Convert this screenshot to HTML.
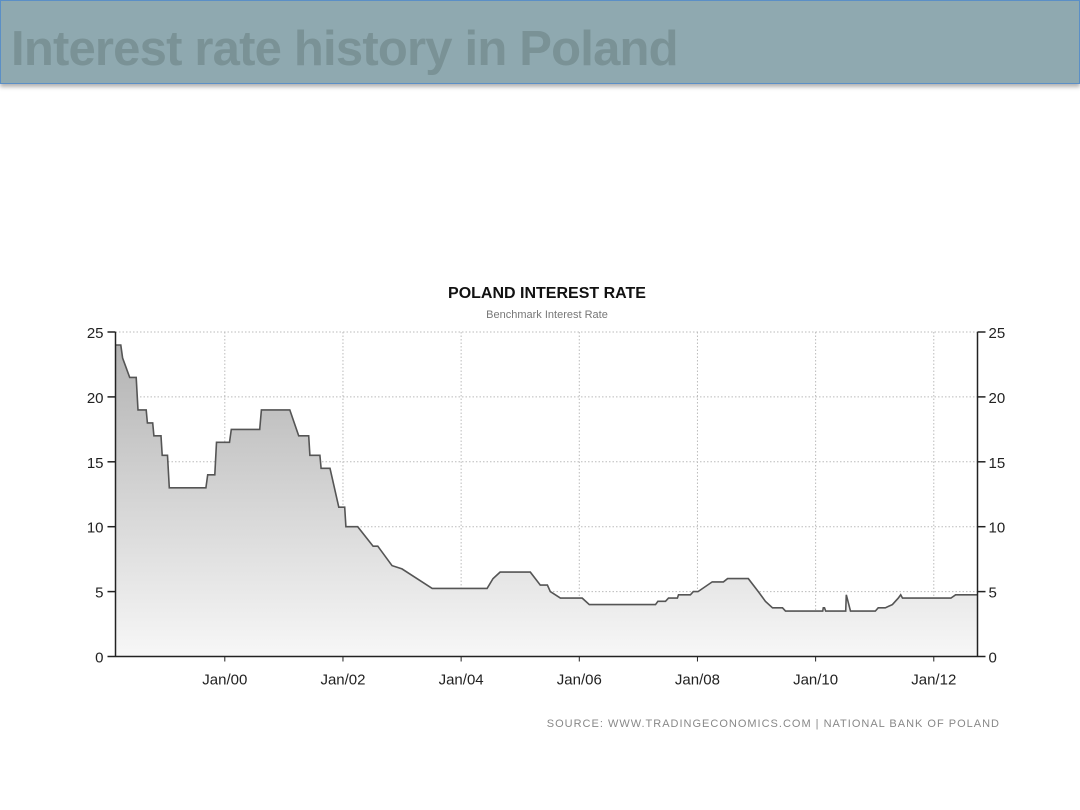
<!DOCTYPE html>
<html><head><meta charset="utf-8">
<style>
html,body{margin:0;padding:0;background:#fff;}
body{width:1080px;height:810px;position:relative;overflow:hidden;font-family:"Liberation Sans",sans-serif;}
#hdr{position:absolute;left:0;top:0;width:1078px;height:82px;background:#8fa9b0;border:1px solid #5b8fc6;box-shadow:0 3px 4px rgba(0,0,0,0.3);}
#hdr span{position:absolute;left:10px;top:20px;font-size:49px;line-height:56px;font-weight:bold;color:#7a9296;letter-spacing:-0.8px;white-space:nowrap;}
svg{position:absolute;left:0;top:0;}
</style></head><body>
<div id="hdr"><span>Interest rate history in Poland</span></div>
<svg id="chart" width="1080" height="810">
<defs><linearGradient id="fg" x1="0" y1="0" x2="0" y2="1"><stop offset="0" stop-color="#b3b3b3"/><stop offset="1" stop-color="#f7f7f7"/></linearGradient></defs>
<text x="547" y="298" text-anchor="middle" font-size="16" font-weight="bold" fill="#111">POLAND INTEREST RATE</text>
<text x="547" y="318" text-anchor="middle" font-size="11" fill="#777">Benchmark Interest Rate</text>
<text x="1000" y="727" text-anchor="end" font-size="11" fill="#888" letter-spacing="1">SOURCE: WWW.TRADINGECONOMICS.COM | NATIONAL BANK OF POLAND</text>
<g id="grid"></g><g id="series"></g><g id="axes"></g>
</svg>
<script>
const years = [1998.15,1998.24,1998.27,1998.39,1998.50,1998.53,1998.67,1998.69,1998.78,1998.80,1998.92,1998.94,1999.03,1999.06,1999.68,1999.71,1999.83,1999.86,2000.08,2000.11,2000.59,2000.62,2001.10,2001.25,2001.42,2001.44,2001.61,2001.63,2001.78,2001.93,2002.03,2002.05,2002.25,2002.51,2002.59,2002.83,2003.00,2003.51,2004.44,2004.54,2004.66,2005.17,2005.34,2005.46,2005.51,2005.68,2006.05,2006.17,2007.29,2007.33,2007.46,2007.51,2007.66,2007.68,2007.88,2007.93,2008.01,2008.25,2008.44,2008.51,2008.86,2009.03,2009.15,2009.27,2009.44,2009.49,2010.12,2010.13,2010.15,2010.17,2010.51,2010.52,2010.59,2011.01,2011.06,2011.18,2011.30,2011.40,2011.44,2011.47,2012.29,2012.37,2012.74];
const rates = [24,24,23,21.5,21.5,19,19,18,18,17,17,15.5,15.5,13,13,14,14,16.5,16.5,17.5,17.5,19,19,17,17,15.5,15.5,14.5,14.5,11.5,11.5,10,10,8.5,8.5,7,6.75,5.25,5.25,6,6.5,6.5,5.5,5.5,5,4.5,4.5,4,4,4.25,4.25,4.5,4.5,4.75,4.75,5,5,5.75,5.75,6,6,5,4.25,3.75,3.75,3.5,3.5,3.75,3.75,3.5,3.5,4.75,3.5,3.5,3.75,3.75,4,4.5,4.75,4.5,4.5,4.75,4.75];
const yTicks = [0,5,10,15,20,25];
const xTickYears = [2000,2002,2004,2006,2008,2010,2012];
const xTickLabels = ["Jan/00","Jan/02","Jan/04","Jan/06","Jan/08","Jan/10","Jan/12"];

const L=115.5,R=977.5,T=332,B=656.5,Y0=1998.15,Y1=2012.74;
const sx=v=>L+(v-Y0)/(Y1-Y0)*(R-L);
const sy=v=>B-v/25*(B-T);
const NS="http://www.w3.org/2000/svg";
function mk(tag,parent,attrs){const e=document.createElementNS(NS,tag);for(const k in attrs)e.setAttribute(k,attrs[k]);parent.appendChild(e);return e;}
const grid=document.getElementById('grid'),ser=document.getElementById('series'),ax=document.getElementById('axes');

yTicks.forEach(t=>{
  if(t>0){const g=mk('line',grid,{x1:L,x2:R,y1:sy(t),y2:sy(t),stroke:'#bbb','stroke-dasharray':'1.5,2'});
  
  }
  const tl=mk('line',ax,{x1:L-8,x2:L,y1:sy(t),y2:sy(t),stroke:'#222','stroke-width':1.5});
  
  
  const tr=mk('line',ax,{x1:R,x2:R+8,y1:sy(t),y2:sy(t),stroke:'#222','stroke-width':1.5});
  
  
  const a=mk('text',ax,{x:L-12,y:sy(t)+6,'text-anchor':'end','font-size':15,fill:'#222'});a.textContent=t;
  
  
  const b=mk('text',ax,{x:R+11,y:sy(t)+6,'font-size':15,fill:'#222'});b.textContent=t;
  
  
});
xTickYears.forEach((yr,i)=>{
  const x=sx(yr);
  const g=mk('line',grid,{x1:x,x2:x,y1:T,y2:B,stroke:'#bbb','stroke-dasharray':'1.5,2'});
  
  
  const tk=mk('line',ax,{x1:x,x2:x,y1:B,y2:B+5,stroke:'#222','stroke-width':1});
  
  
  const t=mk('text',ax,{x:x,y:B+28,'text-anchor':'middle','font-size':15,fill:'#222'});t.textContent=xTickLabels[i];
  
  
});
let d='';years.forEach((y,i)=>{d+=(i?'L':'M')+sx(y).toFixed(1)+','+sy(rates[i]).toFixed(1);});
const area=mk('path',ser,{d:d+'L'+sx(years[years.length-1])+','+B+'L'+sx(years[0])+','+B+'Z',fill:'url(#fg)'});


const line=mk('path',ser,{d:d,fill:'none',stroke:'#555','stroke-width':1.6});


const la=mk('line',ax,{x1:L,x2:L,y1:T,y2:B,stroke:'#222','stroke-width':1.5});


const ra=mk('line',ax,{x1:R,x2:R,y1:T,y2:B,stroke:'#222','stroke-width':1.5});


const ba=mk('line',ax,{x1:L,x2:R,y1:B,y2:B,stroke:'#222','stroke-width':1.5});


</script>
</body></html>
